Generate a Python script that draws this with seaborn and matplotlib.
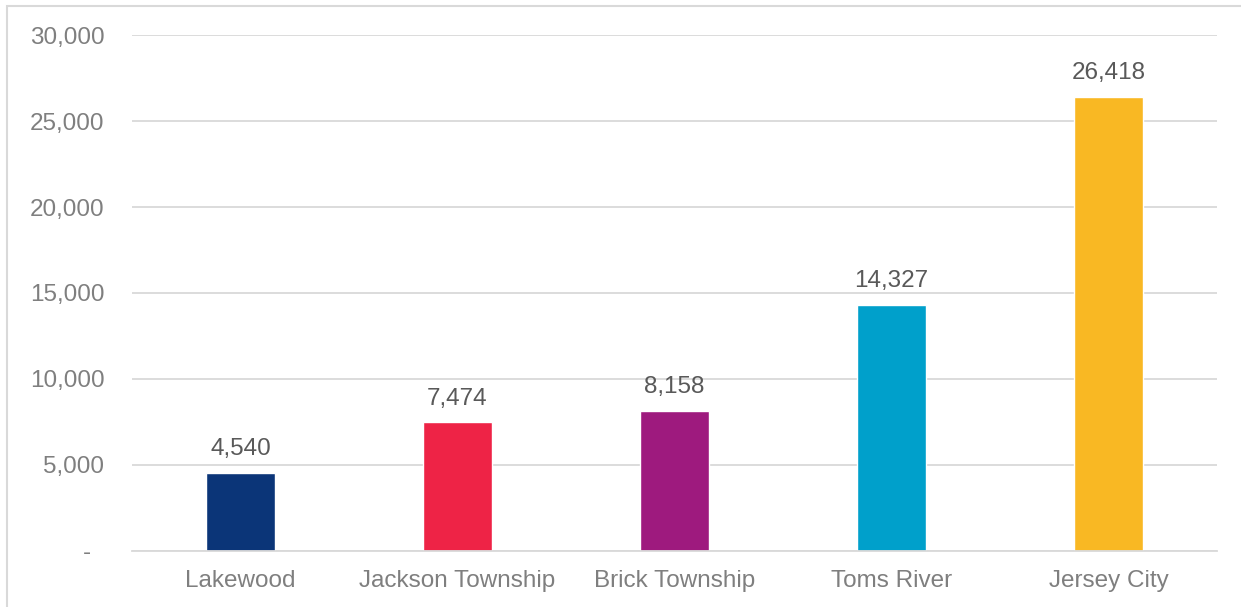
import matplotlib
matplotlib.use("Agg")
import matplotlib.pyplot as plt
import seaborn as sns
import pandas as pd
from matplotlib.patches import Rectangle
from matplotlib.ticker import FuncFormatter

cities = ["Lakewood", "Jackson Township", "Brick Township", "Toms River", "Jersey City"]
values = [4540, 7474, 8158, 14327, 26418]
colors = ["#0b3578", "#ee2346", "#9e1a7e", "#00a0cb", "#f9b823"]

yticks = [0, 5000, 10000, 15000, 20000, 25000, 30000]

sns.set_theme(style="white")
plt.rcParams["font.family"] = ["Liberation Sans", "DejaVu Sans"]

df = pd.DataFrame({"city": cities, "value": values})

fig = plt.figure(figsize=(12.41, 6.07), dpi=100)
ax = fig.add_axes([0.1064, 0.0923, 0.8743, 0.85])

sns.barplot(data=df, x="city", y="value", hue="city", palette=colors,
            width=0.315, legend=False, ax=ax, saturation=1)

ax.set_ylim(0, 30000)
ax.set_yticks(yticks)
ax.yaxis.set_major_formatter(FuncFormatter(lambda v, p: "-  " if v == 0 else f"{int(v):,}"))
ax.set_xlim(-0.5, len(cities) - 0.5)
ax.grid(axis="y", color="#d9d9d9", linewidth=1.3)
ax.set_axisbelow(True)
for s in ["top", "right", "left"]:
    ax.spines[s].set_visible(False)
ax.spines["bottom"].set_color("#d9d9d9")
ax.spines["bottom"].set_linewidth(1.3)
ax.set_xlabel("")
ax.set_ylabel("")
ax.tick_params(axis="y", length=0, pad=20, labelsize=17.5, labelcolor="#7f7f7f")
ax.tick_params(axis="x", length=0, pad=14, labelsize=17.5, labelcolor="#7f7f7f")

for i, v in enumerate(values):
    ax.annotate(f"{v:,}", (i, v), xytext=(0, 9), textcoords="offset points",
                ha="center", va="bottom", fontsize=17.5, color="#595959")

# light frame around the chart area
fig.patches.append(Rectangle((7 / 1241, -0.1), 1.2, (601 / 607) + 0.1,
                             transform=fig.transFigure, fill=False,
                             edgecolor="#d9d9d9", linewidth=1.5))

fig.savefig("out.png", dpi=100)
